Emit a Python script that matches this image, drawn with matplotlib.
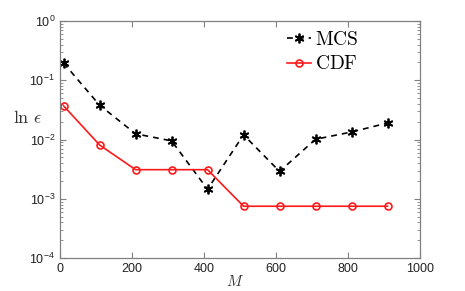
import matplotlib
matplotlib.use("Agg")
import matplotlib.pyplot as plt
import numpy as np

plt.rcParams["mathtext.fontset"] = "cm"
plt.rcParams["font.family"] = ["Liberation Sans", "DejaVu Sans"]

M = [10, 110, 210, 310, 410, 510, 610, 710, 810, 910]
mcs = [0.195, 0.038, 0.0125, 0.0095, 0.00145, 0.012, 0.0029, 0.0101, 0.0134, 0.019]
cdf = [0.037, 0.0081, 0.0031, 0.0031, 0.0031, 0.00075, 0.00075, 0.00075, 0.00075, 0.00075]

fig = plt.figure(figsize=(4.65, 2.91), dpi=100)
ax = fig.add_axes([0.129, 0.113, 0.774, 0.815])

ax.plot(M, mcs, "k--", marker=(6, 2, 0), markersize=7, markeredgewidth=1.3,
        lw=1.2, dashes=(3.5, 3), label=r"$\mathrm{MCS}$")
ax.plot(M, cdf, color="#ff1a1a", marker="o", markersize=5, markerfacecolor="none",
        markeredgewidth=1.2, lw=1.2, label=r"$\mathrm{CDF}$")

ax.set_yscale("log")
ax.set_xlim(0, 1000)
ax.set_ylim(1e-4, 1)
ax.set_xticks([0, 200, 400, 600, 800, 1000])
ax.set_yticks([1e-4, 1e-3, 1e-2, 1e-1, 1])

grey = "#808080"
for s in ax.spines.values():
    s.set_color(grey)
    s.set_linewidth(0.9)
ax.tick_params(which="both", direction="in", top=True, right=True,
               colors=grey, labelcolor="#222222", labelsize=9)
ax.tick_params(which="major", length=4)
ax.tick_params(which="minor", length=2)

ax.set_xlabel(r"$M$", fontsize=11, color="#333333", va="center")
ax.xaxis.set_label_coords(0.486, -0.10)
ax.set_ylabel(r"$\ln\,\epsilon$", fontsize=13, rotation=0,
              va="center", ha="center", color="#333333")
ax.yaxis.set_label_coords(-0.09, 0.59)

leg = ax.legend(loc="upper right", bbox_to_anchor=(0.872, 1.025), frameon=False,
                fontsize=14, handlelength=1.2, handletextpad=0.2,
                labelspacing=0.35, borderpad=0.3)

fig.savefig("out.png", dpi=100)
